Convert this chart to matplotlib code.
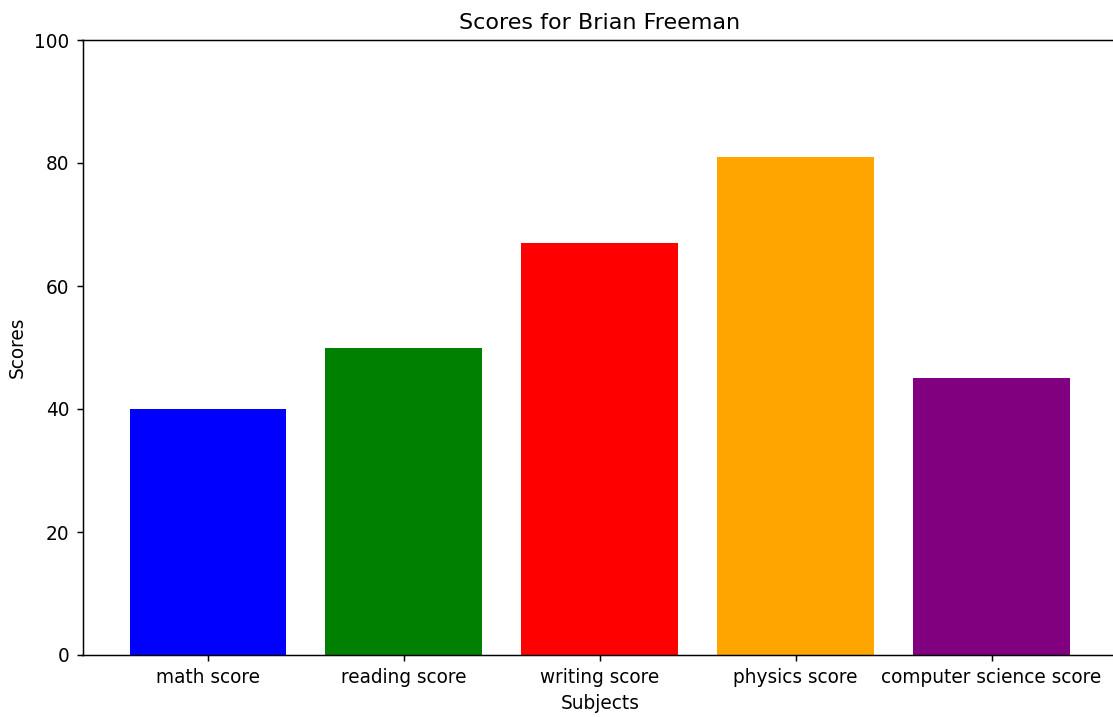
import matplotlib
matplotlib.use("Agg")
import matplotlib.pyplot as plt

subjects = ["math score", "reading score", "writing score", "physics score", "computer science score"]
scores = [40, 50, 67, 81, 45]
colors = ["blue", "green", "red", "orange", "purple"]

# the reference looks like a default plot drawn at ~133 dpi, so scale the defaults by 4/3
s = 4 / 3
plt.rcParams.update({
    "font.size": 10 * s,
    "axes.linewidth": 0.8 * s,
    "xtick.major.size": 3.5 * s,
    "ytick.major.size": 3.5 * s,
    "xtick.major.width": 0.8 * s,
    "ytick.major.width": 0.8 * s,
    "xtick.major.pad": 3.5 * s,
    "ytick.major.pad": 3.5 * s,
    "axes.titlepad": 6.0 * s,
    "axes.labelpad": 4.0 * s,
})

fig = plt.figure(figsize=(11.13, 7.17), dpi=100)
# right spine falls just outside the picture, as in the reference
ax = fig.add_axes([82.5 / 1113, 62 / 717, 1034.5 / 1113, 615 / 717])

ax.bar(subjects, scores, color=colors)
ax.set_ylim(0, 100)
ax.set_xlabel("Subjects")
ax.set_ylabel("Scores")
ax.set_title("Scores for Brian Freeman")

fig.savefig("out.png", dpi=100)
